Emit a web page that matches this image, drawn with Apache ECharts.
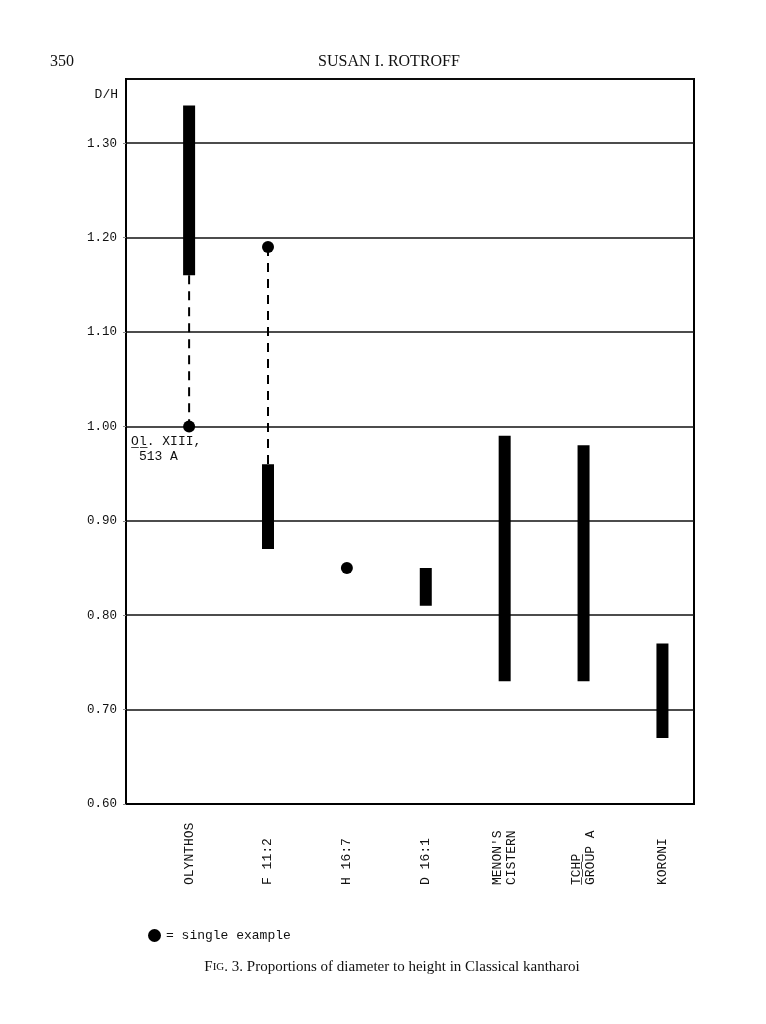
<!DOCTYPE html>
<html>
<head>
<meta charset="utf-8">
<script src="https://cdn.jsdelivr.net/npm/echarts@6/dist/echarts.min.js"></script>
<style>
  html, body { margin: 0; padding: 0; background: #ffffff; }
  #chart { width: 766px; height: 1024px; }
</style>
</head>
<body>
<div id="chart"></div>
<script>
// ---- data ----
var categories = ["OLYNTHOS", "F 11:2", "H 16:7", "D 16:1", "MENON'S\nCISTERN", "T\u0332C\u0332H\u0332P\u0332\nGROUP A", "KORONI"];
var rangeLow  = [1.16, 0.87, null, 0.81, 0.73, 0.73, 0.67];
var rangeHigh = [1.34, 0.96, null, 0.85, 0.99, 0.98, 0.77];
var singleCat   = [1, 2, 3];
var singleValue = [1.00, 1.19, 0.85];
var linkCat  = [1, 2];
var linkFrom = [1.16, 1.19];
var linkTo   = [1.00, 0.96];
var yTicks = [0.60, 0.70, 0.80, 0.90, 1.00, 1.10, 1.20, 1.30];

var mono = "'Liberation Mono', 'DejaVu Sans Mono', monospace";
var serif = "'Liberation Serif', 'DejaVu Serif', serif";

var rangeData = [];
for (var i = 0; i < categories.length; i++) {
  if (rangeLow[i] != null) rangeData.push([i + 1, rangeLow[i], rangeHigh[i]]);
}
var singleData = singleCat.map(function (c, i) { return [c, singleValue[i]]; });

var series = [];
linkCat.forEach(function (c, i) {
  series.push({
    type: 'line', silent: true, symbol: 'none', z: 2,
    data: [[c, linkFrom[i]], [c, linkTo[i]]],
    lineStyle: { color: '#000', width: 2, type: [9, 7] }
  });
});
series.push({
  type: 'custom', z: 3,
  data: rangeData,
  renderItem: function (params, api) {
    var top = api.coord([api.value(0), api.value(2)]);
    var bot = api.coord([api.value(0), api.value(1)]);
    var w = 12;
    return { type: 'rect', shape: { x: top[0] - w / 2, y: top[1], width: w, height: bot[1] - top[1] }, style: { fill: '#000' } };
  }
});
series.push({
  type: 'scatter', name: '= single example', z: 4,
  symbol: 'circle', symbolSize: 12,
  itemStyle: { color: '#000', opacity: 1 },
  data: singleData.map(function (d, i) {
    var o = { value: d };
    if (i === 0) {
      o.label = {
        show: true, formatter: 'O\u0332l\u0332. XIII,\n 513 A',
        position: [-52, 14], align: 'left', verticalAlign: 'top',
        fontFamily: mono, fontSize: 13, color: '#111', lineHeight: 15
      };
    }
    return o;
  })
});

var chart = echarts.init(document.getElementById('chart'));
chart.setOption({
  backgroundColor: '#ffffff',
  animation: false,
  grid: { left: 126, right: 72, top: 79, bottom: 220, show: true, borderColor: '#000', borderWidth: 2, containLabel: false },
  legend: {
    data: [{ name: '= single example', icon: 'circle', itemStyle: { opacity: 1, color: '#000' } }],
    left: 143, top: 924, itemWidth: 13, itemHeight: 13, itemGap: 2,
    textStyle: { fontFamily: mono, fontSize: 13, color: '#111' },
    selectedMode: false
  },
  xAxis: {
    type: 'value', min: 0.2, max: 7.4, interval: 0.2,
    splitLine: { show: false }, axisTick: { show: false },
    axisLine: { show: true, lineStyle: { color: '#000', width: 2 } },
    axisLabel: {
      rotate: 90, align: 'left', verticalAlign: 'middle', margin: 81,
      fontFamily: mono, fontSize: 13, color: '#111', lineHeight: 14,
      showMinLabel: false, showMaxLabel: false,
      formatter: function (v) {
        var n = Math.round(v);
        if (Math.abs(v - n) < 1e-6 && n >= 1 && n <= categories.length) return categories[n - 1];
        return '';
      }
    }
  },
  yAxis: {
    type: 'value', min: 0.6, max: 1.368, interval: 0.1,
    name: 'D/H', nameLocation: 'end', nameGap: -16,
    nameTextStyle: { fontFamily: mono, fontSize: 13, color: '#111', align: 'right', verticalAlign: 'middle', padding: [0, 8, 0, 0] },
    axisLine: { show: true, lineStyle: { color: '#000', width: 2 } },
    axisTick: { show: true, length: 3, lineStyle: { color: '#888', width: 1 } },
    splitLine: { show: true, lineStyle: { color: '#111', width: 1.5 } },
    axisLabel: {
      margin: 9, fontFamily: mono, fontSize: 12.5, color: '#111', showMaxLabel: false,
      formatter: function (v) {
        for (var k = 0; k < yTicks.length; k++) if (Math.abs(v - yTicks[k]) < 1e-6) return yTicks[k].toFixed(2);
        return '';
      }
    }
  },
  graphic: [
    { type: 'text', x: 50, y: 62, style: { text: '350', font: '16px ' + serif, fill: '#111', textVerticalAlign: 'middle' } },
    { type: 'text', x: 389, y: 62, style: { text: 'SUSAN I. ROTROFF', font: '16px ' + serif, fill: '#111', textAlign: 'center', textVerticalAlign: 'middle' } },
    { type: 'text', x: 392, y: 967, style: {
        text: '{a|F}{b|IG}{a|. 3. Proportions of diameter to height in Classical kantharoi}',
        textAlign: 'center', textVerticalAlign: 'middle', fill: '#111',
        rich: { a: { fontFamily: serif, fontSize: 15, color: '#111' }, b: { fontFamily: serif, fontSize: 11, color: '#111' } }
      } }
  ],
  series: series
});
</script>
</body>
</html>
